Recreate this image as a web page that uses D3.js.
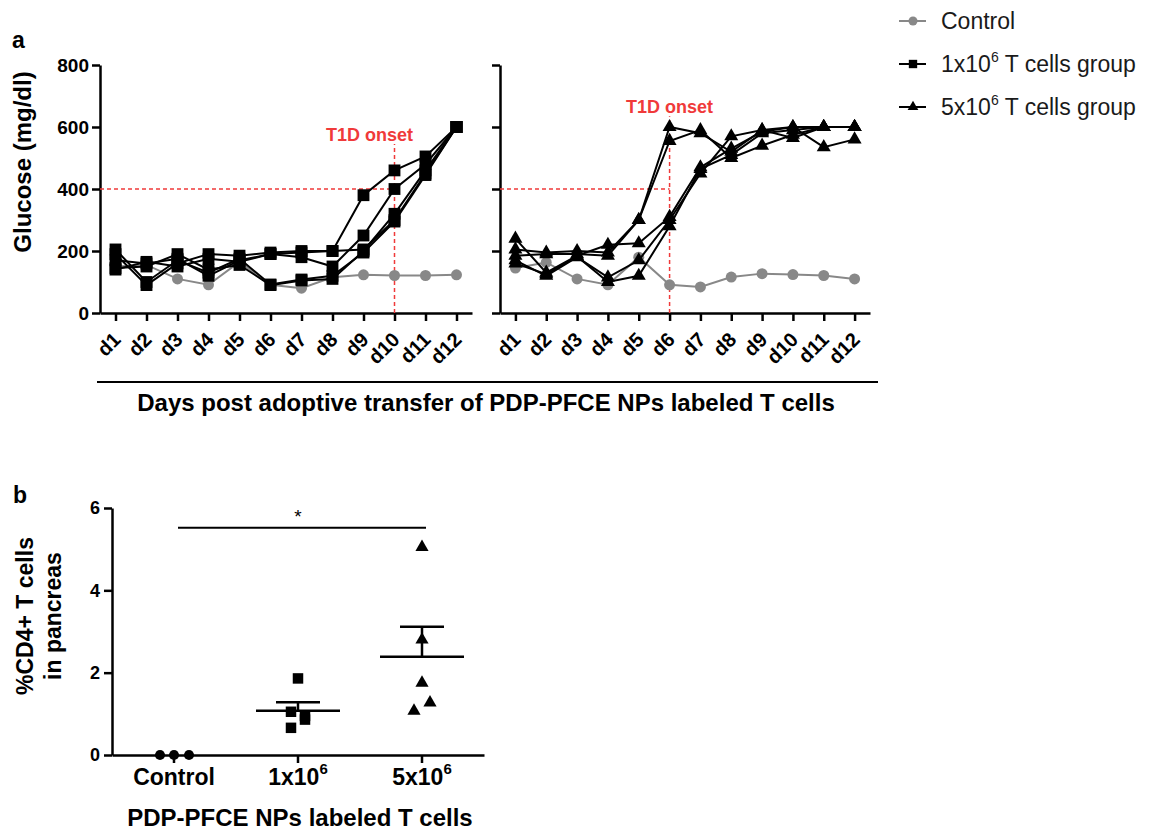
<!DOCTYPE html>
<html>
<head>
<meta charset="utf-8">
<script src="https://cdn.jsdelivr.net/npm/d3@7"></script>
<style>
  body { margin: 0; background: #fff; }
  svg { font-family: "Liberation Sans", Arial, sans-serif; }
</style>
</head>
<body>
<div id="chart-area"></div>
<script>
// ---- data ----
var days = ['d1','d2','d3','d4','d5','d6','d7','d8','d9','d10','d11','d12'];
var glucoseTicks = [0, 200, 400, 600, 800];

// panel a, left: control + 1x10^6 group (squares)
var controlLeft = [150, 155, 110, 91, 165, 91, 80, 115, 123, 121, 121, 123];
var squareMice = [
  [190, 90, 160, 190, 185, 195, 200, 200, 380, 460, 505, 600],
  [170, 160, 175, 120, 170, 190, 180, 150, 250, 400, 480, 600],
  [145, 150, 190, 140, 155, 90, 105, 110, 200, 320, 460, 600],
  [140, 165, 150, 175, 165, 190, 195, 200, 205, 300, 450, 600],
  [205, 100, 170, 130, 175, 92, 108, 120, 195, 295, 445, 600]
];

// panel a, right: control + 5x10^6 group (triangles)
var controlRight = [145, 163, 110, 91, 180, 91, 84, 116, 127, 124, 121, 110];
var triangleMice = [
  [205, 195, 200, 195, 300, 600, 580, 520, 590, 600, 600, 600],
  [185, 190, 190, 185, 300, 555, 590, 500, 540, 575, 600, 600],
  [240, 130, 185, 220, 225, 310, 470, 530, 585, 600, 535, 560],
  [170, 120, 180, 115, 170, 300, 450, 570, 590, 565, 600, 600],
  [160, 125, 182, 100, 120, 280, 465, 510, 580, 590, 600, 600]
];

var threshold = 400;
var onsetDays = ['d10', 'd6'];
var onsetTop = [545, 635];

// panel b
var cd4Groups = ['Control', '1x10^6', '5x10^6'];
var cd4Ticks = [0, 2, 4, 6];
var cd4Control = [0, 0, 0];
var cd4Low = [1.86, 1.05, 0.95, 0.86, 0.66];
var cd4High = [5.05, 2.8, 1.75, 1.27, 1.07];
var sigLevel = 5.52;

// ---- layout ----
var W = 1150, H = 835;
var red = '#f03a3a', grey = '#888888';
var svg = d3.select('#chart-area').append('svg')
  .attr('width', W).attr('height', H);

function styleAxis(g) {
  g.select('.domain').attr('stroke', '#000').attr('stroke-width', 2.5);
  g.selectAll('.tick line').attr('stroke', '#000').attr('stroke-width', 2.5);
  g.selectAll('.tick text').attr('fill', '#000').attr('font-weight', 'bold');
}

var yA = d3.scaleLinear().domain([0, 800]).range([313, 65]);

function glucosePanel(x0, x1, control, mice, symbol, onset, top, textShift, showLabels) {
  var x = d3.scalePoint().domain(days).range([x0, x1]).padding(0.5);
  var g = svg.append('g');

  // axes
  var ya = g.append('g').attr('transform', 'translate(' + x0 + ',0)')
    .call(d3.axisLeft(yA).tickValues(glucoseTicks).tickSize(8).tickSizeOuter(0)
      .tickFormat(showLabels ? d3.format('d') : ''));
  styleAxis(ya);
  ya.selectAll('.tick text').attr('font-size', 19).attr('x', -11);

  var xa = g.append('g').attr('transform', 'translate(0,313)')
    .call(d3.axisBottom(x).tickSize(8).tickSizeOuter(0));
  styleAxis(xa);
  xa.selectAll('.tick text')
    .attr('font-size', 20)
    .attr('text-anchor', 'end')
    .attr('x', null).attr('y', null).attr('dy', '0.35em')
    .attr('transform', 'translate(1,23) rotate(-45)');

  // red dashed guides
  g.append('line')
    .attr('x1', x0).attr('x2', x(onset))
    .attr('y1', yA(threshold)).attr('y2', yA(threshold))
    .attr('stroke', red).attr('stroke-width', 1.5).attr('stroke-dasharray', '4,3');
  g.append('line')
    .attr('x1', x(onset)).attr('x2', x(onset))
    .attr('y1', yA(0)).attr('y2', yA(top))
    .attr('stroke', red).attr('stroke-width', 1.5).attr('stroke-dasharray', '4,3');
  g.append('text')
    .attr('x', x(onset) + textShift).attr('y', yA(top) - 3)
    .attr('text-anchor', 'middle')
    .attr('font-size', 18).attr('font-weight', 'bold').attr('fill', red)
    .text('T1D onset');

  var line = d3.line().x((d, i) => x(days[i])).y(d => yA(d));

  // control (grey)
  g.append('path').datum(control)
    .attr('d', line).attr('fill', 'none')
    .attr('stroke', grey).attr('stroke-width', 2);
  g.selectAll('.ctrl').data(control).enter().append('circle')
    .attr('cx', (d, i) => x(days[i])).attr('cy', d => yA(d))
    .attr('r', 5.5).attr('fill', grey);

  // mice
  mice.forEach(function (m) {
    g.append('path').datum(m)
      .attr('d', line).attr('fill', 'none')
      .attr('stroke', '#000').attr('stroke-width', 2);
  });
  mice.forEach(function (m) {
    g.selectAll(null).data(m).enter().append('path')
      .attr('transform', (d, i) => 'translate(' + x(days[i]) + ',' + yA(d) + ')')
      .attr('d', symbol)
      .attr('fill', '#000');
  });
  return x;
}

var sq = d3.symbol().type(d3.symbolSquare).size(140)();
var tri = d3.symbol().type(d3.symbolTriangle).size(85)();

glucosePanel(100, 472, controlLeft, squareMice, sq, onsetDays[0], onsetTop[0], -25, true);
glucosePanel(500, 870, controlRight, triangleMice, tri, onsetDays[1], onsetTop[1], 0, false);

// panel a labels
svg.append('text').attr('x', 12).attr('y', 48)
  .attr('font-size', 23).attr('font-weight', 'bold').text('a');
svg.append('text')
  .attr('transform', 'translate(31,162) rotate(-90)')
  .attr('text-anchor', 'middle')
  .attr('font-size', 24).attr('font-weight', 'bold')
  .text('Glucose (mg/dl)');
svg.append('line')
  .attr('x1', 97).attr('x2', 878).attr('y1', 382).attr('y2', 382)
  .attr('stroke', '#000').attr('stroke-width', 2);
svg.append('text')
  .attr('x', 486).attr('y', 411)
  .attr('text-anchor', 'middle')
  .attr('font-size', 24).attr('font-weight', 'bold')
  .text('Days post adoptive transfer of PDP-PFCE NPs labeled T cells');

// legend
var legendItems = [
  { label: 'Control', sup: null, color: grey, shape: 'circle' },
  { label: '1x10', sup: '6', rest: ' T cells group', color: '#000', shape: 'square' },
  { label: '5x10', sup: '6', rest: ' T cells group', color: '#000', shape: 'triangle' }
];
var legendY = d3.scalePoint().domain([0, 1, 2]).range([21, 107]);
legendItems.forEach(function (it, i) {
  var y = legendY(i);
  var lg = svg.append('g').attr('transform', 'translate(0,' + y + ')');
  lg.append('line').attr('x1', 899).attr('x2', 926).attr('y1', 0).attr('y2', 0)
    .attr('stroke', it.color).attr('stroke-width', 2);
  if (it.shape === 'circle') {
    lg.append('circle').attr('cx', 913).attr('cy', 0).attr('r', 4.5).attr('fill', it.color);
  } else {
    lg.append('path').attr('transform', 'translate(913,0)')
      .attr('d', d3.symbol().type(it.shape === 'square' ? d3.symbolSquare : d3.symbolTriangle)
        .size(it.shape === 'square' ? 70 : 50)())
      .attr('fill', '#000');
  }
  var t = lg.append('text').attr('x', 941).attr('y', 8)
    .attr('font-size', 23).attr('fill', '#1a1a1a');
  t.append('tspan').text(it.label);
  if (it.sup) {
    t.append('tspan').attr('dy', -10).attr('font-size', 14).text(it.sup);
    t.append('tspan').attr('dy', 10).text(it.rest);
  }
});

// ---- panel b ----
var yB = d3.scaleLinear().domain([0, 6]).range([755, 508]);
var xB = d3.scaleBand().domain(cd4Groups).range([112, 484]);
var gb = svg.append('g');

var yb = gb.append('g').attr('transform', 'translate(112,0)')
  .call(d3.axisLeft(yB).tickValues(cd4Ticks).tickSize(8).tickSizeOuter(0).tickFormat(d3.format('d')));
styleAxis(yb);
yb.selectAll('.tick text').attr('font-size', 18).attr('x', -12);

var xb = gb.append('g').attr('transform', 'translate(0,755)')
  .call(d3.axisBottom(xB).tickSize(8).tickSizeOuter(0).tickFormat(''));
styleAxis(xb);
xb.selectAll('.tick').each(function (d) {
  var t = d3.select(this).append('text')
    .attr('y', 30).attr('text-anchor', 'middle')
    .attr('font-size', 23).attr('font-weight', 'bold').attr('fill', '#000');
  if (d.indexOf('^') < 0) {
    t.text(d);
  } else {
    var p = d.split('^');
    t.append('tspan').text(p[0]);
    t.append('tspan').attr('dy', -11).attr('font-size', 15).text(p[1]);
  }
});

var cx = g => xB(g) + xB.bandwidth() / 2;
var jitter = {
  'Control': [-14, 0, 15],
  '1x10^6': [0, -7, 7, 7, -7],
  '5x10^6': [0, 0, 0, 8, -8]
};
var groups = [
  { key: 'Control', vals: cd4Control, sym: d3.symbol().type(d3.symbolCircle).size(80)() },
  { key: '1x10^6', vals: cd4Low, sym: d3.symbol().type(d3.symbolSquare).size(110)() },
  { key: '5x10^6', vals: cd4High, sym: d3.symbol().type(d3.symbolTriangle).size(75)() }
];
groups.forEach(function (gr) {
  var c = cx(gr.key);
  gb.selectAll(null).data(gr.vals).enter().append('path')
    .attr('transform', (d, i) => 'translate(' + (c + jitter[gr.key][i]) + ',' + yB(d) + ')')
    .attr('d', gr.sym).attr('fill', '#000');
  var m = d3.mean(gr.vals);
  var sem = d3.deviation(gr.vals) / Math.sqrt(gr.vals.length);
  if (gr.key !== 'Control') {
    gb.append('line').attr('x1', c - 42).attr('x2', c + 42)
      .attr('y1', yB(m)).attr('y2', yB(m))
      .attr('stroke', '#000').attr('stroke-width', 2.5);
    gb.append('line').attr('x1', c).attr('x2', c)
      .attr('y1', yB(m)).attr('y2', yB(m + sem))
      .attr('stroke', '#000').attr('stroke-width', 2.5);
    gb.append('line').attr('x1', c - 22).attr('x2', c + 22)
      .attr('y1', yB(m + sem)).attr('y2', yB(m + sem))
      .attr('stroke', '#000').attr('stroke-width', 2.5);
  }
});

// significance bar
gb.append('line')
  .attr('x1', cx('Control') + 4).attr('x2', cx('5x10^6') + 4)
  .attr('y1', yB(sigLevel)).attr('y2', yB(sigLevel))
  .attr('stroke', '#000').attr('stroke-width', 2);
gb.append('text')
  .attr('x', (cx('Control') + cx('5x10^6')) / 2).attr('y', yB(sigLevel) - 5)
  .attr('text-anchor', 'middle').attr('font-size', 19).text('*');

svg.append('text').attr('x', 13).attr('y', 503)
  .attr('font-size', 23).attr('font-weight', 'bold').text('b');
var yl = svg.append('text')
  .attr('transform', 'translate(33,616) rotate(-90)')
  .attr('text-anchor', 'middle')
  .attr('font-size', 23).attr('font-weight', 'bold');
yl.append('tspan').attr('x', 0).attr('y', 0).text('%CD4+ T cells');
yl.append('tspan').attr('x', 0).attr('y', 28).text('in pancreas');

svg.append('text')
  .attr('x', 300).attr('y', 826)
  .attr('text-anchor', 'middle')
  .attr('font-size', 24).attr('font-weight', 'bold')
  .text('PDP-PFCE NPs labeled T cells');
</script>
</body>
</html>
